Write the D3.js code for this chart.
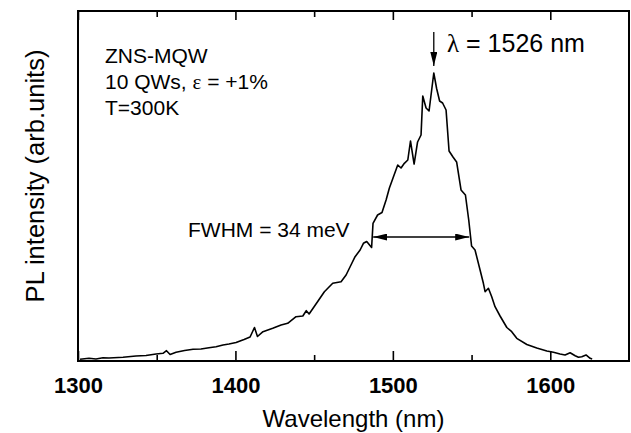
<!DOCTYPE html>
<html>
<head>
<meta charset="utf-8">
<script src="https://cdn.jsdelivr.net/npm/d3@7"></script>
<style>
  html, body { margin: 0; padding: 0; background: #fff; }
  svg { display: block; }
  text { font-family: "Liberation Sans", Arial, Helvetica, sans-serif; fill: #000; }
</style>
</head>
<body>
<svg id="chart" width="631" height="433"></svg>
<script>
// PL spectrum of the ZNS-MQW sample, room temperature
const wavelengths = [
  1301.3, 1307.0, 1311.4, 1315.9, 1319.7, 1328.6, 1336.8, 1343.2, 1349.6, 1354.0,
  1356.2, 1358.5, 1362.3, 1367.7, 1373.1, 1378.1, 1383.2, 1387.7, 1392.1, 1395.9,
  1400.4, 1405.5, 1409.3, 1412.1, 1414.0, 1417.5, 1423.7, 1429.0, 1433.2, 1438.5,
  1442.8, 1445.0, 1446.8, 1451.5, 1456.5, 1461.8, 1467.1, 1470.3, 1473.4, 1476.0,
  1479.2, 1481.3, 1483.4, 1486.5, 1487.4, 1490.3, 1493.1, 1495.7, 1497.8, 1500.1,
  1503.1, 1505.2, 1507.3, 1509.5, 1511.2, 1513.5, 1515.7, 1517.9, 1519.0, 1521.1,
  1523.0, 1526.0, 1527.8, 1529.7, 1531.6, 1533.8, 1535.7, 1538.2, 1540.5, 1543.3,
  1546.1, 1548.2, 1550.0, 1552.2, 1555.4, 1557.5, 1558.6, 1560.7, 1562.8, 1564.9,
  1568.1, 1572.4, 1575.5, 1578.7, 1585.1, 1591.4, 1597.8, 1602.0, 1606.2, 1609.4,
  1612.6, 1615.8, 1617.9, 1620.0, 1622.7, 1625.3, 1626.6
];
const intensity = [
  0.58, 0.93, 0.69, 1.13, 1.03, 1.27, 1.71, 1.89, 2.40, 2.64,
  3.53, 2.23, 2.98, 3.60, 4.01, 4.11, 4.56, 4.90, 5.49, 5.83,
  6.34, 7.37, 8.23, 11.49, 8.40, 10.05, 11.21, 12.34, 12.93, 15.19,
  15.43, 17.25, 16.11, 19.78, 23.76, 26.64, 27.19, 29.49, 32.91, 35.76,
  38.06, 40.35, 40.97, 38.91, 47.21, 50.06, 50.91, 55.20, 59.31, 62.74,
  67.20, 66.17, 67.78, 68.91, 75.43, 67.54, 75.09, 77.49, 90.86, 86.74,
  85.71, 98.74, 93.43, 89.14, 88.46, 86.06, 72.00, 69.94, 68.23, 58.63,
  56.91, 48.34, 39.43, 38.06, 31.20, 26.64, 23.76, 24.93, 22.05, 18.62,
  15.43, 11.49, 10.05, 7.78, 5.66, 4.46, 3.43, 2.98, 2.40, 2.06,
  2.85, 1.82, 1.27, 1.47, 2.06, 0.93, 0.69
];

// axis ticks
const majorTicks = [1300, 1400, 1500, 1600];
const minorTicks = [1350, 1450, 1550];
const xDomain = [1300, 1650];
const yDomain = [0, 120];

// annotations
const peakWavelength = 1526;
const fwhmEnds = [1487.5, 1548.5];
const fwhmLevel = 42.5;
const sampleLines = ["ZNS-MQW", "10 QWs, ", "T=300K"];

const svg = d3.select("#chart");
const plotLeft = 78, plotRight = 629, plotTop = 11, plotBottom = 361;

const x = d3.scaleLinear().domain(xDomain).range([plotLeft, plotRight]);
const y = d3.scaleLinear().domain(yDomain).range([plotBottom, plotTop]);

// inward ticks on bottom and top edges
function tickAxis(gen, values, size, pos, labelled) {
  const a = gen(x).tickValues(values).tickSizeInner(-size).tickSizeOuter(0)
    .tickPadding(16);
  a.tickFormat(labelled ? d3.format("d") : () => "");
  const g = svg.append("g").attr("transform", `translate(0,${pos})`).call(a);
  g.select(".domain").remove();
  g.selectAll(".tick line").attr("stroke", "#000").attr("stroke-width", 1.6);
  g.selectAll(".tick text")
    .style("font-size", "22px").style("font-weight", "bold")
    .attr("fill", "#000");
  return g;
}
tickAxis(d3.axisBottom, majorTicks, 10, plotBottom, true);
tickAxis(d3.axisBottom, minorTicks, 6, plotBottom, false);
tickAxis(d3.axisTop, majorTicks, 9, plotTop, false);
tickAxis(d3.axisTop, minorTicks, 6, plotTop, false);

// plot frame
svg.append("rect")
  .attr("x", x(xDomain[0])).attr("y", y(yDomain[1]))
  .attr("width", x(xDomain[1]) - x(xDomain[0]))
  .attr("height", y(yDomain[0]) - y(yDomain[1]))
  .attr("fill", "none").attr("stroke", "#000").attr("stroke-width", 2);

// spectrum
const points = wavelengths.map((w, i) => [w, intensity[i]]);
const line = d3.line().x(d => x(d[0])).y(d => y(d[1]));
svg.append("path").datum(points)
  .attr("d", line)
  .attr("fill", "none").attr("stroke", "#000")
  .attr("stroke-width", 1.6).attr("stroke-linejoin", "round");

// axis titles
svg.append("text")
  .attr("x", (plotLeft + plotRight) / 2).attr("y", 427)
  .attr("text-anchor", "middle")
  .style("font-size", "24px")
  .text("Wavelength (nm)");

svg.append("text")
  .attr("transform", `translate(44,${(plotTop + plotBottom) / 2 - 10}) rotate(-90)`)
  .attr("text-anchor", "middle")
  .style("font-size", "25.5px")
  .text("PL intensity (arb.units)");

// sample description
const desc = svg.append("g");
desc.append("text").attr("x", 105).attr("y", 63).style("font-size", "21px").text(sampleLines[0]);
const l2 = desc.append("text").attr("x", 105).attr("y", 89).style("font-size", "21px");
l2.append("tspan").text(sampleLines[1]);
l2.append("tspan").style("font-family", "'Liberation Serif', 'Times New Roman', serif").text("ε");
l2.append("tspan").text(" = +1%");
desc.append("text").attr("x", 105).attr("y", 115).style("font-size", "21px").text(sampleLines[2]);

// arrow heads
const defs = svg.append("defs");
function head(id, w, h) {
  defs.append("marker").attr("id", id)
    .attr("viewBox", `0 0 ${w} ${h}`).attr("refX", w).attr("refY", h / 2)
    .attr("markerWidth", w).attr("markerHeight", h)
    .attr("markerUnits", "userSpaceOnUse").attr("orient", "auto-start-reverse")
    .append("path").attr("d", `M0,0L${w},${h / 2}L0,${h}Z`).attr("fill", "#000");
}
head("hd", 14, 7);
head("hf", 14, 7);

// peak marker
const px = x(peakWavelength);
svg.append("line")
  .attr("x1", px).attr("x2", px).attr("y1", 32).attr("y2", 66)
  .attr("stroke", "#000").attr("stroke-width", 1.3)
  .attr("marker-end", "url(#hd)");
const lam = svg.append("text").attr("x", 447).attr("y", 52).style("font-size", "25px");
lam.append("tspan").style("font-family", "'Liberation Serif', 'Times New Roman', serif").text("λ");
lam.append("tspan").text(" = " + peakWavelength + " nm");

// FWHM double arrow
const fy = y(fwhmLevel);
svg.append("line")
  .attr("x1", x(fwhmEnds[0])).attr("x2", x(fwhmEnds[1]))
  .attr("y1", fy).attr("y2", fy)
  .attr("stroke", "#000").attr("stroke-width", 1.4)
  .attr("marker-start", "url(#hf)").attr("marker-end", "url(#hf)");
svg.append("text").attr("x", 188).attr("y", fy)
  .style("font-size", "21px").text("FWHM = 34 meV");
</script>
</body>
</html>
